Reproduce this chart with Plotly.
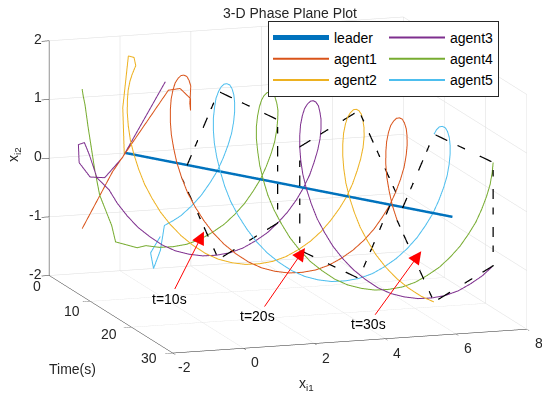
import plotly.graph_objects as go

# ---------------- data ----------------
T_GRID = [1.5, 2.0, 2.5, 3.0, 3.5, 4.0, 4.5, 5.0, 5.5, 6.0, 6.5, 7.0, 7.5, 8.0, 8.5, 9.0, 9.5, 10.0,
          10.5, 11.0, 11.5, 12.0, 12.5, 13.0, 13.5, 14.0, 14.5, 15.0, 15.5, 16.0, 16.5, 17.0, 17.5,
          18.0, 18.5, 19.0, 19.5, 20.0, 20.5, 21.0, 21.5, 22.0, 22.5, 23.0, 23.5, 24.0, 24.5, 25.0,
          25.5, 26.0, 26.5, 27.0, 27.5, 28.0, 28.5, 29.0, 29.5, 30.0]

leader_t = [0, 30]
leader_x1 = [0.16, 5.90]
leader_x2 = [0.0, 0.0]

a1_t = [0, 0.5, 1.0, 1.5, 2.0, 2.25, 2.5] + T_GRID[3:]
a1_x1 = [-1.07, -0.27, 1.25, 1.52, 1.76, 1.73, 1.68,
         1.65, 1.54, 1.42, 1.28, 1.14, 1.00, 0.86, 0.74, 0.63, 0.55, 0.49, 0.46, 0.47, 0.50, 0.58,
         0.69, 0.84, 1.03, 1.24, 1.49, 1.76, 2.06, 2.37, 2.69, 3.02, 3.35, 3.67, 3.98, 4.28, 4.55,
         4.80, 5.02, 5.20, 5.35, 5.46, 5.54, 5.58, 5.58, 5.55, 5.49, 5.41, 5.30, 5.18, 5.04, 4.90,
         4.76, 4.62, 4.50, 4.39, 4.31, 4.25, 4.22, 4.23, 4.26, 4.34]
a1_x2 = [-1.24, -0.28, 1.07, 1.11, 0.95, 0.76, 0.90,
         1.21, 1.34, 1.43, 1.48, 1.50, 1.48, 1.43, 1.34, 1.21, 1.06, 0.88, 0.68, 0.46, 0.24, 0.00,
         -0.24, -0.46, -0.68, -0.88, -1.06, -1.21, -1.34, -1.43, -1.48, -1.50, -1.48, -1.43, -1.34,
         -1.21, -1.06, -0.88, -0.68, -0.46, -0.24, 0.00, 0.24, 0.46, 0.68, 0.88, 1.06, 1.21, 1.34,
         1.43, 1.48, 1.50, 1.48, 1.43, 1.34, 1.21, 1.06, 0.88, 0.68, 0.46, 0.24, 0.00]

a2_t = [0, 0.5, 1.0, 1.25, 1.5] + T_GRID[1:]
a2_x1 = [0.12, 0.02, 0.12, 0.25, 0.27,
         0.11, -0.01, -0.12, -0.20, -0.26, -0.29, -0.29, -0.25, -0.17, -0.06, 0.09, 0.27, 0.49,
         0.74, 1.01, 1.31, 1.62, 1.94, 2.27, 2.60, 2.92, 3.23, 3.53, 3.80, 4.05, 4.26, 4.45, 4.60,
         4.71, 4.78, 4.82, 4.83, 4.80, 4.74, 4.65, 4.55, 4.42, 4.29, 4.15, 4.01, 3.87, 3.75, 3.64,
         3.56, 3.50, 3.47, 3.47, 3.51, 3.59, 3.70, 3.85, 4.03, 4.25, 4.50, 4.77, 5.07, 5.38]
a2_x2 = [-0.03, 0.80, 1.70, 1.68, 1.55,
         1.43, 1.34, 1.21, 1.06, 0.88, 0.68, 0.46, 0.24, 0.00, -0.24, -0.46, -0.68, -0.88, -1.06,
         -1.21, -1.34, -1.43, -1.48, -1.50, -1.48, -1.43, -1.34, -1.21, -1.06, -0.88, -0.68, -0.46,
         -0.24, 0.00, 0.24, 0.46, 0.68, 0.88, 1.06, 1.21, 1.34, 1.43, 1.48, 1.50, 1.48, 1.43, 1.34,
         1.21, 1.06, 0.88, 0.68, 0.46, 0.24, 0.00, -0.24, -0.46, -0.68, -0.88, -1.06, -1.21, -1.34,
         -1.43]

a3_t = [0, 0.5, 0.75, 1.0, 1.25, 1.5, 1.75, 2.0, 2.5] + T_GRID[3:]
a3_x1 = [1.28, 0.01, -0.52, -0.96, -1.30, -1.35, -1.21, -1.10, -0.94,
         -0.66, -0.48, -0.26, -0.02, 0.26, 0.55, 0.86, 1.19, 1.52, 1.85, 2.17, 2.48, 2.77, 3.05,
         3.29, 3.51, 3.70, 3.84, 3.96, 4.03, 4.07, 4.08, 4.05, 3.99, 3.90, 3.80, 3.67, 3.54, 3.40,
         3.26, 3.12, 3.00, 2.89, 2.81, 2.75, 2.72, 2.72, 2.76, 2.84, 2.95, 3.10, 3.28, 3.50, 3.75,
         4.02, 4.31, 4.62, 4.95, 5.28, 5.61, 5.93, 6.24, 6.53, 6.81, 7.05]
a3_x2 = [1.17, -0.05, -0.36, -0.32, -0.05, 0.27, 0.31, 0.11, -0.27,
         -0.46, -0.68, -0.88, -1.06, -1.21, -1.34, -1.43, -1.48, -1.50, -1.48, -1.43, -1.34, -1.21,
         -1.06, -0.88, -0.68, -0.46, -0.24, 0.00, 0.24, 0.46, 0.68, 0.88, 1.06, 1.21, 1.34, 1.43,
         1.48, 1.50, 1.48, 1.43, 1.34, 1.21, 1.06, 0.88, 0.68, 0.46, 0.24, 0.00, -0.24, -0.46,
         -0.68, -0.88, -1.06, -1.21, -1.34, -1.43, -1.48, -1.50, -1.48, -1.43, -1.34, -1.21, -1.06,
         -0.88]

a4_t = [0, 0.1, 0.25, 0.5, 0.75, 1.0, 1.25, 1.5, 2.0] + T_GRID[2:]
a4_x1 = [-1.07, -1.05, -1.02, -0.96, -0.80, -0.69, -0.38, -0.30, 0.25,
         0.44, 0.76, 1.09, 1.42, 1.73, 2.02, 2.30, 2.54, 2.76, 2.94, 3.09, 3.20, 3.28, 3.32, 3.32,
         3.29, 3.24, 3.15, 3.04, 2.92, 2.79, 2.64, 2.50, 2.37, 2.25, 2.14, 2.05, 1.99, 1.97, 1.97,
         2.01, 2.08, 2.20, 2.35, 2.53, 2.75, 2.99, 3.27, 3.56, 3.87, 4.20, 4.52, 4.85, 5.18, 5.49,
         5.78, 6.06, 6.30, 6.52, 6.70, 6.85, 6.96, 7.04, 7.08, 7.08, 7.05]
a4_x2 = [1.14, 1.02, 0.89, 0.51, -0.22, -0.64, -1.16, -1.43, -1.53,
         -1.48, -1.50, -1.48, -1.43, -1.34, -1.21, -1.06, -0.88, -0.68, -0.46, -0.24,
         0.00, 0.24, 0.46, 0.68, 0.88, 1.06, 1.21, 1.34, 1.43, 1.48, 1.50, 1.48, 1.43, 1.34, 1.21,
         1.06, 0.88, 0.68, 0.46, 0.24, 0.00, -0.24, -0.46, -0.68, -0.88, -1.06, -1.21, -1.34, -1.43,
         -1.48, -1.50, -1.48, -1.43, -1.34, -1.21, -1.06, -0.88, -0.68, -0.46, -0.24,
         0.00, 0.24, 0.46, 0.68, 0.88]

a5_t = [0, 0.2, 0.4, 0.6, 0.8, 1.0] + T_GRID[0:]
a5_x1 = [1.14, 0.84, 0.90, 1.07, 1.16, 1.38,
         1.54, 1.79, 2.01, 2.19, 2.34, 2.45, 2.53, 2.57, 2.57, 2.54, 2.48, 2.40, 2.29, 2.17, 2.03,
         1.89, 1.75, 1.62, 1.49, 1.39, 1.30, 1.24, 1.21, 1.22, 1.26, 1.33, 1.44, 1.59, 1.78, 1.99,
         2.24, 2.51, 2.81, 3.12, 3.44, 3.77, 4.10, 4.42, 4.74, 5.03, 5.30, 5.55, 5.77, 5.95, 6.10,
         6.21, 6.29, 6.33, 6.33, 6.30, 6.24, 6.16, 6.05, 5.93, 5.79, 5.65, 5.51, 5.38]
a5_x2 = [-1.46, -1.72, -1.98, -1.67, -1.24, -1.16,
         -1.06, -0.88, -0.68, -0.46, -0.24,
         0.00, 0.24, 0.46, 0.68, 0.88, 1.06, 1.21, 1.34, 1.43, 1.48, 1.50, 1.48, 1.43, 1.34, 1.21,
         1.06, 0.88, 0.68, 0.46, 0.24, 0.00, -0.24, -0.46, -0.68, -0.88, -1.06, -1.21, -1.34, -1.43,
         -1.48, -1.50, -1.48, -1.43, -1.34, -1.21, -1.06, -0.88, -0.68, -0.46, -0.24,
         0.00, 0.24, 0.46, 0.68, 0.88, 1.06, 1.21, 1.34, 1.43, 1.48, 1.50, 1.48, 1.43]

formation_times = [10, 20, 30]
arrow_labels = ["t=10s", "t=20s", "t=30s"]
arrow_points = [(10, 1.21, -0.94), (20, 2.90, -0.85), (30, 5.02, -0.55)]   # (t, x1, x2) of arrow tips
time_ticks = [0, 10, 20, 30]
x1_ticks = [-2, 0, 2, 4, 6, 8]
x2_ticks = [-2, -1, 0, 1, 2]

names = ["agent1", "agent2", "agent3", "agent4", "agent5"]
colors = ["#D95319", "#EDB120", "#7E2F8E", "#77AC30", "#4DBEEE"]
agents = [(a1_t, a1_x1, a1_x2), (a2_t, a2_x1, a2_x2), (a3_t, a3_x1, a3_x2),
          (a4_t, a4_x1, a4_x2), (a5_t, a5_x1, a5_x2)]

FONT = "Liberation Sans, Arial, sans-serif"
TXT = "#262626"
W, H = 542, 393

fig = go.Figure()
fig.add_trace(go.Scatter3d(x=leader_t, y=leader_x1, z=leader_x2, mode="lines", name="leader",
                           line=dict(color="#0072BD", width=5), legendgroup="g1",
                           legendwidth=45))
for k, (name, col, (tt, x1, x2)) in enumerate(zip(names, colors, agents)):
    fig.add_trace(go.Scatter3d(x=tt, y=x1, z=x2, mode="lines", name=name,
                               line=dict(color=col, width=2),
                               legendgroup="g1" if k < 2 else "g2",
                               legendwidth=45 if k < 2 else 43))

# dashed formation pentagons
for T in formation_times:
    px, py, pz = [], [], []
    for k in [0, 1, 2, 3, 4, 0]:
        tt, x1, x2 = agents[k]
        i = tt.index(T)
        px.append(T); py.append(x1[i]); pz.append(x2[i])
    fig.add_trace(go.Scatter3d(x=px, y=py, z=pz, mode="lines", showlegend=False,
                               line=dict(color="black", width=2.5, dash="longdashdot")))

axis_common = dict(showbackground=False, showgrid=True, gridcolor="#DCDCDC", gridwidth=1,
                   zeroline=False, showline=True, linecolor=TXT, linewidth=1,
                   ticks="outside", ticklen=8, tickcolor=TXT, showspikes=False,
                   showticklabels=False, title=dict(text=""))

tickfont = dict(family=FONT, size=14, color=TXT)
time_label_shift = [(-6.5, -10), (-8.5, -10), (-12, -7), (-13.5, -5)]
scene_ann = []
for v in x2_ticks:
    scene_ann.append(dict(x=0, y=-2, z=v, text=str(v), showarrow=False, xanchor="right",
                          xshift=-5, yshift=2, font=tickfont))
for v, (xs, ys) in zip(time_ticks, time_label_shift):
    scene_ann.append(dict(x=v, y=-2, z=-2, text=str(v), showarrow=False, xanchor="right",
                          xshift=xs, yshift=ys, font=tickfont))
for v in x1_ticks:
    scene_ann.append(dict(x=30, y=v, z=-2, text=str(v), showarrow=False, xanchor="center",
                          xshift=12, yshift=-14, font=tickfont))

arrow_offsets = [(-34, 67), (-47, 68), (-53, 73)]
for lab, (T, x1, x2), (axp, ayp) in zip(arrow_labels, arrow_points, arrow_offsets):
    scene_ann.append(dict(x=T, y=x1, z=x2, text=lab, showarrow=True, arrowhead=2, arrowsize=2.6,
                          arrowwidth=1, arrowcolor="#FF0000", ax=axp, ay=ayp,
                          font=dict(family=FONT, size=14, color="black")))

fig.update_layout(
    width=W, height=H, margin=dict(l=0, r=0, t=0, b=0),
    paper_bgcolor="white",
    title=dict(text="3-D Phase Plane Plot", x=282 / W, y=1 - 5 / H, xref="container",
               yref="container", xanchor="center", yanchor="middle",
               font=dict(family=FONT, size=14, color=TXT)),
    scene=dict(
        domain=dict(x=[0.0385, 0.9945], y=[0.0992, 1]),
        xaxis=dict(axis_common, range=[0, 30], tickvals=time_ticks),
        yaxis=dict(axis_common, range=[-2, 8], tickvals=x1_ticks),
        zaxis=dict(axis_common, range=[-2, 2], tickvals=x2_ticks),
        aspectmode="manual", aspectratio=dict(x=2.243, y=2.105, z=1.355),
        camera=dict(eye=dict(x=4.65, y=-1.522, z=1.027), center=dict(x=0, y=0, z=0),
                    up=dict(x=0, y=0, z=1), projection=dict(type="orthographic")),
        annotations=scene_ann,
    ),
    legend=dict(orientation="h", traceorder="grouped", x=260 / W, y=1 - 13 / H, xanchor="left",
                yanchor="top", bgcolor="white", bordercolor=TXT, borderwidth=1,
                font=dict(family=FONT, size=14, color="black"), itemwidth=56),
    annotations=[
        dict(text="x<sub>i2</sub>", x=6 / W, y=1 - 147 / H, xref="paper", yref="paper",
             xanchor="center", yanchor="middle",
             showarrow=False, textangle=-90, font=dict(family=FONT, size=14, color=TXT)),
        dict(text="Time(s)", x=64.5 / W, y=1 - 360.5 / H, xref="paper", yref="paper",
             xanchor="center", yanchor="middle",
             showarrow=False, font=dict(family=FONT, size=14, color=TXT)),
        dict(text="x<sub>i1</sub>", x=298.5 / W, y=1 - 376 / H, xref="paper", yref="paper",
             xanchor="center", yanchor="middle",
             showarrow=False, font=dict(family=FONT, size=14, color=TXT)),
    ],
)

fig.write_html("out.html")
